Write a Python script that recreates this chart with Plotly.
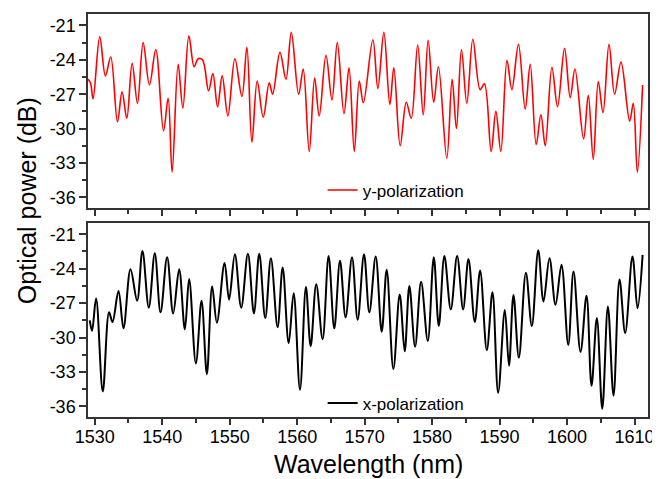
import plotly.graph_objects as go

# ---- data (peaks / valleys) ----
wl_y = [1529.0, 1529.36, 1529.75, 1530.74, 1531.58, 1532.37, 1533.37, 1534.05, 1534.75, 1535.54,
        1536.33, 1537.17, 1538.11, 1539.05, 1540.19, 1540.88, 1541.47, 1542.36, 1543.06, 1543.95,
        1544.73, 1545.33, 1545.98, 1546.87, 1547.51, 1548.2, 1548.89, 1549.73, 1550.77, 1551.81,
        1552.55, 1553.29, 1554.08, 1554.97, 1555.86, 1556.36, 1557.45, 1558.34, 1559.13, 1560.22,
        1560.9, 1561.79, 1562.59, 1563.27, 1564.27, 1565.16, 1565.95, 1566.94, 1567.69, 1568.47,
        1569.21, 1569.81, 1571.22, 1571.96, 1572.85, 1573.74, 1574.33, 1575.27, 1576.17, 1576.91,
        1577.86, 1578.69, 1579.41, 1580.24, 1580.94, 1582.18, 1582.97, 1583.61, 1584.35, 1585.15,
        1586.04, 1587.12, 1587.76, 1588.75, 1589.45, 1590.19, 1591.1, 1591.82, 1592.8, 1593.8,
        1594.54, 1595.43, 1596.13, 1596.77, 1597.76, 1598.59, 1599.63, 1600.47, 1601.17, 1602.45,
        1603.15, 1603.89, 1604.63, 1605.33, 1606.22, 1607.05, 1608.0, 1609.28, 1609.82, 1610.42,
        1611.2]
db_y = [-25.7, -26.0, -27.4, -22.0, -25.4, -23.75, -29.4, -26.8, -29.1, -24.3,
        -27.8, -22.5, -26.2, -23.1, -30.2, -27.35, -33.8, -24.4, -28.2, -21.9,
        -24.6, -23.9, -24.0, -26.7, -25.2, -28.1, -25.4, -28.9, -23.9, -27.2,
        -22.9, -31.2, -25.85, -29.0, -26.0, -27.0, -23.35, -25.7, -21.6, -27.0,
        -24.8, -32.0, -25.6, -28.9, -23.6, -27.5, -22.5, -28.7, -24.7, -32.0,
        -25.85, -27.75, -22.25, -26.5, -21.6, -27.9, -24.7, -31.5, -27.7, -29.1,
        -22.7, -28.8, -22.3, -27.7, -24.6, -32.6, -25.7, -30.0, -23.1, -27.8,
        -22.2, -26.6, -26.1, -32.0, -28.5, -32.0, -24.05, -26.6, -22.65, -28.3,
        -24.4, -31.4, -28.8, -31.5, -24.65, -28.1, -23.0, -27.3, -24.8, -30.9,
        -27.1, -32.7, -25.9, -28.6, -22.65, -27.0, -24.2, -29.35, -27.8, -33.8,
        -26.2]

wl_x = [1529.26, 1529.6, 1530.2, 1531.19, 1532.12, 1532.63, 1533.52, 1534.26, 1535.3, 1536.28,
        1537.07, 1538.01, 1538.9, 1539.75, 1540.73, 1541.62, 1542.51, 1543.35, 1543.99, 1544.99,
        1545.83, 1546.62, 1547.4, 1548.1, 1549.24, 1549.91, 1550.77, 1551.71, 1552.7, 1553.59,
        1554.38, 1555.27, 1556.11, 1557.1, 1557.85, 1558.74, 1559.48, 1560.42, 1561.3, 1562.0,
        1562.83, 1563.77, 1564.66, 1565.5, 1566.35, 1567.18, 1568.13, 1568.97, 1569.91, 1570.7,
        1571.64, 1572.53, 1573.27, 1574.26, 1575.2, 1575.94, 1576.63, 1577.48, 1578.37, 1579.36,
        1580.25, 1580.99, 1581.82, 1582.77, 1583.71, 1584.6, 1585.39, 1586.33, 1587.12, 1588.11,
        1588.95, 1589.79, 1590.78, 1591.4, 1592.06, 1592.86, 1593.9, 1594.78, 1595.73, 1596.51,
        1597.4, 1598.29, 1599.18, 1600.18, 1600.96, 1602.0, 1602.89, 1603.63, 1604.42, 1605.22,
        1606.06, 1606.89, 1607.78, 1608.62, 1609.7, 1610.45, 1611.2]
db_x = [-28.5, -29.4, -26.6, -34.7, -27.8, -28.65, -25.95, -29.2, -24.05, -26.8,
        -22.45, -27.4, -22.65, -27.8, -23.0, -27.9, -24.05, -29.3, -24.9, -32.25,
        -26.8, -33.2, -25.55, -28.7, -23.5, -26.7, -22.75, -27.4, -22.7, -27.9,
        -22.7, -28.3, -23.1, -29.1, -23.9, -30.5, -26.15, -34.55, -25.6, -30.75,
        -25.35, -30.15, -22.9, -29.2, -23.3, -28.25, -23.0, -28.45, -22.75, -27.8,
        -22.95, -29.5, -24.1, -32.75, -26.25, -31.2, -25.5, -30.8, -25.15, -30.3,
        -23.0, -29.0, -22.9, -27.55, -22.9, -27.55, -23.15, -28.65, -24.15, -31.1,
        -26.05, -34.8, -27.6, -32.45, -26.3, -31.75, -24.35, -29.0, -22.4, -26.85,
        -23.1, -27.15, -23.65, -30.65, -24.25, -31.25, -26.35, -34.2, -28.3, -36.2,
        -27.3, -35.05, -24.95, -29.6, -22.95, -27.45, -22.8]

series_names = ["y-polarization", "x-polarization"]
x_title = "Wavelength (nm)"
y_title = "Optical power (dB)"
y_tickvals = [-21, -24, -27, -30, -33, -36]
y_ticktext = ["-21", "-24", "-27", "-30", "-33", "-36"]

FONT = "Liberation Sans, Arial, sans-serif"

fig = go.Figure()
fig.add_trace(go.Scatter(x=wl_y, y=db_y, mode="lines", name=series_names[0],
                         line=dict(color="#ff0000", width=1.6, shape="spline", smoothing=1.0),
                         xaxis="x2", yaxis="y2", legend="legend"))
fig.add_trace(go.Scatter(x=wl_x, y=db_x, mode="lines", name=series_names[1],
                         line=dict(color="#000000", width=2, shape="spline", smoothing=1.0),
                         xaxis="x", yaxis="y", legend="legend2"))

axis_common = dict(showline=True, linecolor="#333333", linewidth=1.5, mirror=True,
                   showgrid=False, zeroline=False, ticks="outside", tickcolor="#333333",
                   tickwidth=1.5, tickfont=dict(family=FONT, size=18, color="black"))
minor_x = dict(dtick=5, tick0=1530, ticks="outside", ticklen=4, tickcolor="#333333", tickwidth=1.5)
minor_y = dict(dtick=1.5, tick0=-21, ticks="outside", ticklen=4, tickcolor="#333333", tickwidth=1.5)

xr = [1529.0, 1612.0]
yr = [-36.92, -20.0]

# the page body adds an 8px offset; size the figure so it fits the 660x479 window
fig.update_layout(
    width=652, height=471,
    paper_bgcolor="white", plot_bgcolor="white",
    margin=dict(l=80, r=12, t=4, b=62),
    showlegend=True,
    xaxis=dict(range=xr, anchor="y", tick0=1530, dtick=10, ticklen=6, ticklabelstandoff=-3,
               minor=minor_x, **axis_common),
    xaxis2=dict(range=xr, anchor="y2", matches="x", tick0=1530, dtick=10, ticklen=6,
                showticklabels=False, minor=minor_x, **axis_common),
    yaxis=dict(range=yr, domain=[0, 0.482], anchor="x", tickmode="array", tickvals=y_tickvals,
               ticktext=y_ticktext, ticklen=7, minor=minor_y, **axis_common),
    yaxis2=dict(range=yr, domain=[0.519, 1], anchor="x2", tickmode="array", tickvals=y_tickvals,
                ticktext=y_ticktext, ticklen=7, minor=minor_y, **axis_common),
    legend=dict(x=0.419, y=0.562, xanchor="left", yanchor="middle", bgcolor="rgba(0,0,0,0)",
                font=dict(family=FONT, size=17, color="black")),
    legend2=dict(x=0.419, y=0.0338, xanchor="left", yanchor="middle", bgcolor="rgba(0,0,0,0)",
                 font=dict(family=FONT, size=17, color="black")),
    annotations=[
        dict(text=x_title, xref="paper", yref="paper", x=0.5, y=-0.116,
             xanchor="center", yanchor="middle", showarrow=False,
             font=dict(family=FONT, size=25, color="black")),
        dict(text=y_title, xref="paper", yref="paper", x=-0.109, y=0.538,
             xanchor="center", yanchor="middle", textangle=-90, showarrow=False,
             font=dict(family=FONT, size=25, color="black")),
    ],
)

fig.write_html("out.html")
